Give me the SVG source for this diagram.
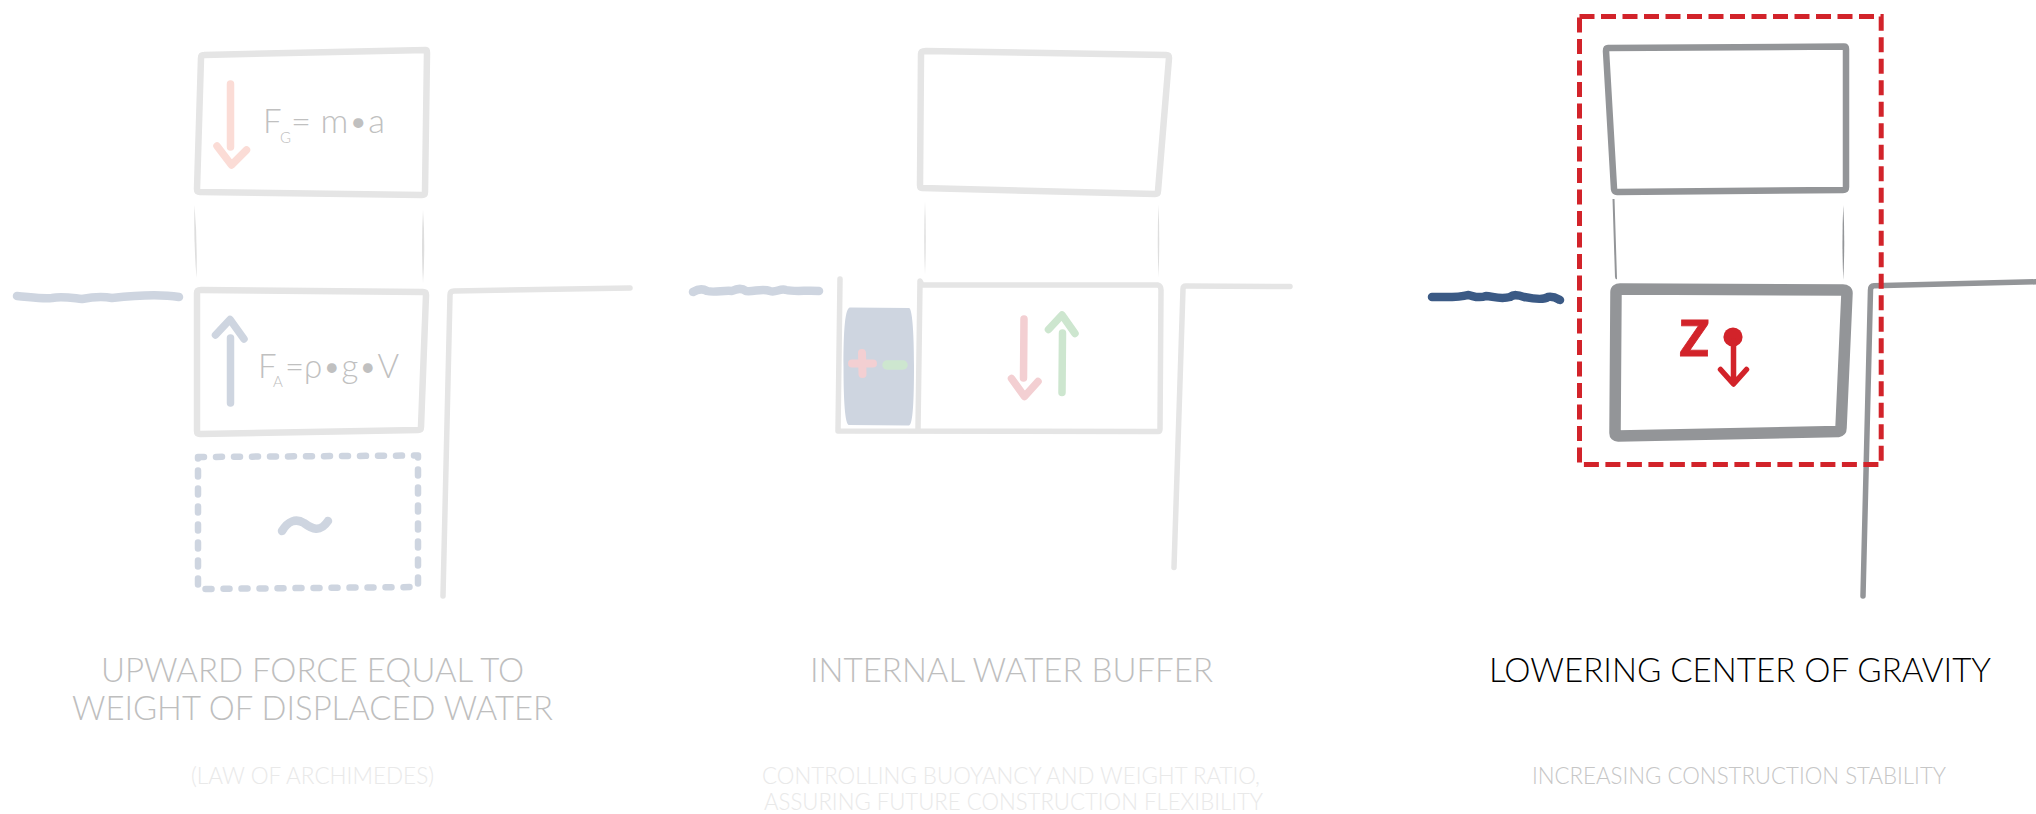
<svg xmlns="http://www.w3.org/2000/svg" width="2036" height="814" viewBox="0 0 2036 814">
<style>
.s{fill:none;stroke-linecap:round;stroke-linejoin:round}
.lg{stroke:#e5e5e5}
.dg{stroke:#939598}
.w6{stroke-width:6.500}
.w5{stroke-width:5.500}
.w7{stroke-width:7.500}
.thinL{fill:#dedede}
.thinD{fill:#939598}
.water{stroke:#ced5e0;stroke-width:8.500}
.t{font-family:"Lato","Liberation Sans",sans-serif;font-weight:300;text-anchor:start}
.h{font-size:32.500px;fill:#bebebe}
.sub{font-size:23px;fill:#e9e9e9}
.f{font-size:33px;fill:#c0c0c0}
.fs{font-size:15px;fill:#c0c0c0}
</style>
<rect width="2036" height="814" fill="#ffffff"/>
<g id="panel-archimedes">
  <g id="a-upper-box"><path class="s lg w6" d="M204 55 L426 50 Q427 50 427 53 L425 192 Q425 195 422 195 L200 192 Q197 192 197 189 L201 58 Q201 55 204 55Z"/></g>
  <g id="a-columns"><path class="thinL" d="M194.500 205 Q197.500 240 196.500 278 Q193.500 240 194.500 205Z"/><path class="thinL" d="M423 210 Q425.500 246 423 283 Q421 246 423 210Z"/></g>
  <g id="a-water"><path class="s water" d="M17 296 C30 297 42 299 52 298 C62 296 72 298 82 299 C92 297 102 296 112 298 C130 296 160 294 179 297"/></g>
  <g id="a-lower-box"><path class="s lg w6" d="M201 290 L423 292 Q426 292 426 295 L421 427 Q421 430 418 430 L200 434 Q197 434 197 431 L197 293 Q197 290 201 290Z"/></g>
  <g id="a-wall"><path class="s lg w5" d="M630 288 L454 291 Q450 291 450 295 L443 596"/></g>
  <g id="a-dashed"><path class="s" stroke="#ced5e0" stroke-width="6.500" stroke-dasharray="6 12" d="M198 457 L418 455.500 L418 587 L198 589Z"/></g>
  <g id="a-tilde"><path class="s" stroke="#ced5e0" stroke-width="8.500" d="M282 531 C288 521 296 518 304 523 C312 529 320 533 328 521"/></g>
  <g id="a-force-g">
    <path class="s w7" stroke="#fbdcd6" d="M230.500 84 L230.500 147"/>
    <path class="s w7" stroke="#fbdcd6" d="M217 146 L231.500 165 L246.500 150"/>
    <text class="t f" x="263" y="133">F</text><text class="t fs" x="280" y="143">G</text><text class="t f" x="291" y="133" textLength="94" lengthAdjust="spacingAndGlyphs">= m•a</text>
  </g>
  <g id="a-force-a">
    <path class="s w7" stroke="#ced5e0" d="M230.500 338 L230.500 403"/>
    <path class="s w7" stroke="#ced5e0" d="M215.500 335 L230 319.500 L244 339"/>
    <text class="t f" x="258" y="378">F</text><text class="t fs" x="273" y="387">A</text><text class="t f" x="285" y="378" textLength="114" lengthAdjust="spacingAndGlyphs">=ρ•g•V</text>
  </g>
  <text class="t h" x="101" y="682" textLength="423" lengthAdjust="spacingAndGlyphs">UPWARD FORCE EQUAL TO</text>
  <text class="t h" x="72" y="720" textLength="481" lengthAdjust="spacingAndGlyphs">WEIGHT OF DISPLACED WATER</text>
  <text class="t sub" x="191" y="784" textLength="243" lengthAdjust="spacingAndGlyphs">(LAW OF ARCHIMEDES)</text>
</g>
<g id="panel-buffer">
  <g id="b-upper-box"><path class="s lg w6" d="M926 51 L1166 55 Q1169 55 1169 58 L1158 191 Q1158 194 1155 194 L922 188 Q920 188 920 185 L921 54 Q921 51 926 51Z"/></g>
  <g id="b-columns"><path class="thinL" d="M925 201 Q926.500 238 925 274 Q923.500 238 925 201Z"/><path class="thinL" d="M1158.500 205 Q1160 240 1158.500 277 Q1157 240 1158.500 205Z"/></g>
  <g id="b-water"><path class="s water" d="M693 292 C698 289 702 288 707 291 C714 293 724 290 732 291 C738 288 742 288 746 291 C754 292 762 288 770 291 C776 293 780 288 786 290 C794 292 808 290 819 291"/></g>
  <g id="b-fill"><path fill="#ced5e0" d="M850 307.500 L909 308 C912 308 914 330 914 366 C914 400 913 425 909 425.500 L849 425 C845 425 843.500 400 843.500 366 C843.500 330 845 308 850 307.500Z"/></g>
  <g id="b-tank"><path class="s lg w5" d="M840 279 L838 431 L1158 431.500 Q1160 431.500 1160 429 L1161 290 Q1161 286 1158 285 L922 285 L920 281 L918 429"/></g>
  <g id="b-wall"><path class="s lg w5" d="M1290 286.500 L1186 286 Q1183 286 1183 289 L1174 567.500"/></g>
  <g id="b-plus"><path class="s" stroke="#f3cfd2" stroke-width="8" d="M862 353 L862.500 374 M852 363.500 L873 363.500"/></g>
  <g id="b-minus"><path class="s" stroke="#cde6cf" stroke-width="9.500" d="M887 365 L903 365"/></g>
  <g id="b-down"><path class="s w7" stroke="#f3cfd2" d="M1024 319 L1023.500 378"/><path class="s w7" stroke="#f3cfd2" d="M1011.500 378.500 L1024.500 396.500 L1038 381.500"/></g>
  <g id="b-up"><path class="s w7" stroke="#cde6cf" d="M1062.500 333 L1062 392.500"/><path class="s w7" stroke="#cde6cf" d="M1048.500 329.500 L1062 315 L1075 333.500"/></g>
  <text class="t h" x="810" y="682" textLength="403" lengthAdjust="spacingAndGlyphs">INTERNAL WATER BUFFER</text>
  <text class="t sub" x="762" y="784" textLength="498" lengthAdjust="spacingAndGlyphs">CONTROLLING BUOYANCY AND WEIGHT RATIO,</text>
  <text class="t sub" x="764" y="810" textLength="499" lengthAdjust="spacingAndGlyphs">ASSURING FUTURE CONSTRUCTION FLEXIBILITY</text>
</g>
<g id="panel-gravity">
  <g id="c-upper-box"><path class="s dg w6" d="M1608 48 L1844 46.500 Q1846 46.500 1846 49 L1846 187 Q1846 190 1843 190 L1617 192 Q1614.500 192 1614 189 L1606 51 Q1606 48 1608 48Z"/></g>
  <g id="c-columns"><path class="thinD" d="M1612.500 199 L1614.500 199 L1617 279 Q1615.500 280 1615 277Z"/><path class="thinD" d="M1843.300 205 Q1845.200 241 1843.300 280 Q1841.600 241 1843.300 205Z"/></g>
  <g id="c-water"><path class="s" stroke="#3b5a85" stroke-width="8.500" d="M1432 297 C1445 297 1458 298 1468 295 C1474 296 1478 299 1486 296 C1492 296 1500 300 1510 297 C1514 294 1518 295 1524 297 C1534 299 1544 300 1548 297 C1554 296 1558 299 1560 300"/></g>
  <g id="c-lower-box"><path class="s dg" stroke-width="11.500" d="M1620 289 L1843 290 Q1847 290 1847 293 L1841 428 Q1841 431 1838 431.500 L1618 436 Q1615 436 1615 433 L1616 292 Q1616 289 1620 289Z"/></g>
  <g id="c-wall"><path class="s dg w5" d="M2036 281.800 L1874 285.800 Q1870.500 286 1870.500 290 L1863 596"/></g>
  <g id="c-highlight"><rect x="1579.500" y="16.500" width="301.700" height="448" fill="none" stroke="#d2232a" stroke-width="5" stroke-dasharray="15 6.500"/></g>
  <g id="c-z">
    <text x="1679.500" y="356" font-family="Lato,'Liberation Sans',sans-serif" font-weight="900" font-size="49" fill="#d2232a" stroke="#d2232a" stroke-width="0.800">Z</text>
    <circle cx="1733" cy="337" r="9.600" fill="#d2232a"/>
    <path class="s w5" stroke="#d2232a" d="M1733.500 341 L1733.500 383 M1720.500 369.500 L1733.500 384 L1746.500 369.500"/>
  </g>
  <text class="t h" x="1489" y="682" textLength="502" lengthAdjust="spacingAndGlyphs" style="fill:#000000">LOWERING CENTER OF GRAVITY</text>
  <text class="t sub" x="1532" y="784" textLength="414" lengthAdjust="spacingAndGlyphs" style="fill:#c6c6c6">INCREASING CONSTRUCTION STABILITY</text>
</g>
</svg>
